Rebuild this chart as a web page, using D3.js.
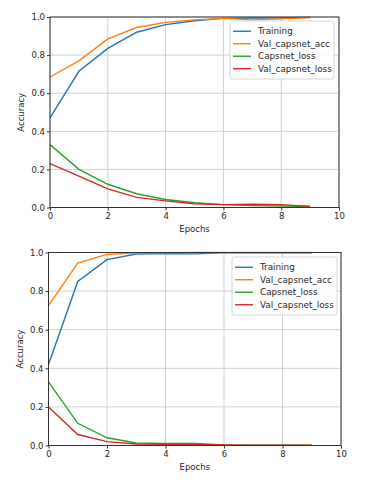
<!DOCTYPE html>
<html>
<head>
<meta charset="utf-8">
<script src="https://cdn.jsdelivr.net/npm/d3@7"></script>
<style>
  body { margin: 0; background: #fff; }
  text { font-family: "DejaVu Sans", sans-serif; fill: #262626; }
</style>
</head>
<body>
<div class="chart"></div>
<script>
// Epochs shared by both plots
var epochs = [0, 1, 2, 3, 4, 5, 6, 7, 8, 9];
var seriesNames = ["Training", "Val_capsnet_acc", "Capsnet_loss", "Val_capsnet_loss"];
var seriesColors = ["#1f77b4", "#ff7f0e", "#2ca02c", "#d62728"];
var xTicks = [0, 2, 4, 6, 8, 10];
var yTicks = [0.0, 0.2, 0.4, 0.6, 0.8, 1.0];

// Top plot values
var topTraining = [0.47, 0.715, 0.835, 0.92, 0.96, 0.98, 0.993, 0.995, 0.995, 0.998];
var topValAcc = [0.685, 0.77, 0.885, 0.945, 0.972, 0.985, 0.993, 0.985, 0.99, 0.997];
var topLoss = [0.33, 0.2, 0.122, 0.072, 0.042, 0.025, 0.015, 0.01, 0.008, 0.005];
var topValLoss = [0.23, 0.165, 0.098, 0.053, 0.035, 0.02, 0.015, 0.017, 0.015, 0.006];

// Bottom plot values
var botTraining = [0.42, 0.85, 0.963, 0.992, 0.995, 0.993, 0.999, 0.999, 0.999, 0.999];
var botValAcc = [0.725, 0.945, 0.99, 0.998, 0.999, 1.0, 1.0, 1.0, 1.0, 1.0];
var botLoss = [0.33, 0.115, 0.04, 0.013, 0.01, 0.01, 0.003, 0.002, 0.002, 0.002];
var botValLoss = [0.2, 0.057, 0.02, 0.008, 0.006, 0.005, 0.003, 0.002, 0.002, 0.002];

var svg = d3.select(".chart").append("svg")
  .attr("width", 370)
  .attr("height", 480);

function drawPlot(box, allSeries, legendBox) {
  var width = box.right - box.left;
  var height = box.bottom - box.top;
  var g = svg.append("g").attr("transform", `translate(${box.left}, ${box.top})`);

  var x = d3.scaleLinear().domain([0, 10]).range([0, width]);
  var y = d3.scaleLinear().domain([0, 1]).range([height, 0]);

  // grid
  g.append("g").selectAll("line").data(xTicks).enter().append("line")
    .attr("x1", d => x(d)).attr("x2", d => x(d))
    .attr("y1", 0).attr("y2", height)
    .attr("stroke", "#d0d0d0").attr("stroke-width", 1);
  g.append("g").selectAll("line").data(yTicks).enter().append("line")
    .attr("x1", 0).attr("x2", width)
    .attr("y1", d => y(d)).attr("y2", d => y(d))
    .attr("stroke", "#d0d0d0").attr("stroke-width", 1);

  // series
  var line = d3.line().x((d, i) => x(epochs[i])).y(d => y(d));
  allSeries.forEach(function(s, i) {
    g.append("path").datum(s)
      .attr("fill", "none")
      .attr("stroke", seriesColors[i])
      .attr("stroke-width", 1.4)
      .attr("d", line);
  });

  // axes
  var bottomAxis = d3.axisBottom(x).tickValues(xTicks).tickFormat(d3.format("d")).tickSize(3).tickPadding(2);
  var leftAxis = d3.axisLeft(y).tickValues(yTicks).tickFormat(d3.format(".1f")).tickSize(3).tickPadding(2);
  var xa = g.append("g").attr("transform", `translate(0, ${height})`).call(bottomAxis);
  var ya = g.append("g").call(leftAxis);
  [xa, ya].forEach(function(a) {
    a.select(".domain").remove();
    a.selectAll("line").attr("stroke", "#333");
    a.selectAll("text").attr("font-size", "8.5px").attr("fill", "#262626")
      .style("font-family", "DejaVu Sans, sans-serif");
  });

  // frame
  g.append("rect").attr("width", width).attr("height", height)
    .attr("fill", "none").attr("stroke", "#333").attr("stroke-width", 1);

  // axis labels
  g.append("text")
    .attr("x", width / 2).attr("y", height + 24)
    .attr("text-anchor", "middle").attr("font-size", "8.5px")
    .text("Epochs");
  g.append("text")
    .attr("transform", "rotate(-90)")
    .attr("x", -height / 2).attr("y", -26)
    .attr("text-anchor", "middle").attr("font-size", "8.5px")
    .text("Accuracy");

  // legend
  var lg = svg.append("g").attr("transform", `translate(${legendBox.x}, ${legendBox.y})`);
  lg.append("rect").attr("width", legendBox.w).attr("height", legendBox.h)
    .attr("rx", 2).attr("fill", "#fff").attr("fill-opacity", 0.85)
    .attr("stroke", "#cccccc").attr("stroke-width", 0.8);
  var rowH = (legendBox.h - 8) / 4;
  seriesNames.forEach(function(name, i) {
    var cy = 4 + rowH * (i + 0.5);
    lg.append("line")
      .attr("x1", 3).attr("x2", 21).attr("y1", cy).attr("y2", cy)
      .attr("stroke", seriesColors[i]).attr("stroke-width", 1.4);
    lg.append("text")
      .attr("x", 28).attr("y", cy).attr("dy", "0.35em")
      .attr("font-size", "8.8px")
      .text(name);
  });
}

drawPlot({left: 50, right: 339, top: 17, bottom: 207.5},
  [topTraining, topValAcc, topLoss, topValLoss],
  {x: 230, y: 21, w: 104, h: 58});

drawPlot({left: 48.5, right: 341, top: 252.5, bottom: 445.5},
  [botTraining, botValAcc, botLoss, botValLoss],
  {x: 232, y: 257, w: 105, h: 58});
</script>
</body>
</html>
